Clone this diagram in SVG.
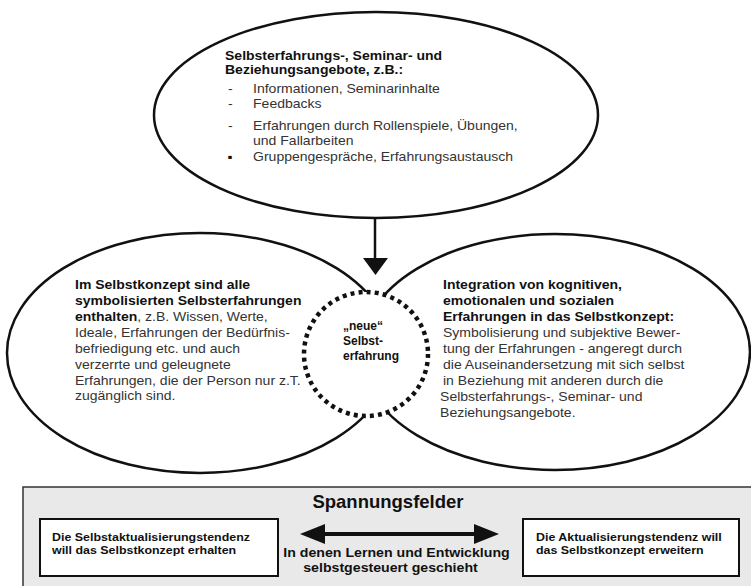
<svg xmlns="http://www.w3.org/2000/svg" width="751" height="586" viewBox="0 0 751 586">
<defs>
<style>
text{font-family:"Liberation Sans",Arial,sans-serif;}
.r{font-size:12.3px;fill:#333;}
.b{font-size:12.3px;font-weight:bold;fill:#111;}
.bb{font-weight:bold;fill:#111;}
.oval{fill:none;stroke:#111;stroke-width:2.5;}
.box{fill:#fff;stroke:#111;stroke-width:2;}
.sb{font-size:11px;font-weight:bold;fill:#111;}
</style>
</defs>
<rect width="751" height="586" fill="#fff"/>

<g id="node-top">
<ellipse class="oval" cx="376" cy="115" rx="222" ry="103" fill="#fff"/>
<g transform="translate(225,0) scale(1.14,1)">
<text class="b" x="0" y="60">Selbsterfahrungs-, Seminar- und</text>
<text class="b" x="0" y="74">Beziehungsangebote, z.B.:</text>
<text class="r" x="2.6" y="93">-</text><text class="r" x="24.6" y="93">Informationen, Seminarinhalte</text>
<text class="r" x="2.6" y="108">-</text><text class="r" x="24.6" y="108">Feedbacks</text>
<text class="r" x="2.6" y="130">-</text><text class="r" x="24.6" y="130">Erfahrungen durch Rollenspiele, Übungen,</text>
<text class="r" x="24.6" y="145">und Fallarbeiten</text>
<text class="b" x="2" y="161">▪</text><text class="r" x="24.6" y="161">Gruppengespräche, Erfahrungsaustausch</text>
</g>
</g>

<g id="node-left">
<ellipse class="oval" cx="200" cy="353" rx="193" ry="120"/>
<g transform="translate(75,0) scale(1.14,1)">
<text class="b" x="0" y="289">Im Selbstkonzept sind alle</text>
<text class="b" x="0" y="305">symbolisierten Selbsterfahrungen</text>
<text class="r" x="0" y="321"><tspan class="bb">enthalten</tspan>, z.B. Wissen, Werte,</text>
<text class="r" x="0" y="337">Ideale, Erfahrungen der Bedürfnis-</text>
<text class="r" x="0" y="353">befriedigung etc. und auch</text>
<text class="r" x="0" y="369">verzerrte und geleugnete</text>
<text class="r" x="0" y="385">Erfahrungen, die der Person nur z.T.</text>
<text class="r" x="0" y="400">zugänglich sind.</text>
</g>
</g>

<g id="node-right">
<ellipse class="oval" cx="555" cy="352" rx="195" ry="118"/>
<g transform="translate(443,0) scale(1.14,1)">
<text class="b" x="0" y="289">Integration von kognitiven,</text>
<text class="b" x="0" y="305">emotionalen und sozialen</text>
<text class="b" x="0" y="321">Erfahrungen in das Selbstkonzept:</text>
<text class="r" x="0" y="337">Symbolisierung und subjektive Bewer-</text>
<text class="r" x="0" y="353">tung der Erfahrungen - angeregt durch</text>
<text class="r" x="0" y="369">die Auseinandersetzung mit sich selbst</text>
<text class="r" x="0" y="385">in Beziehung mit anderen durch die</text>
<text class="r" x="-2.6" y="401">Selbsterfahrungs-, Seminar- und</text>
<text class="r" x="-2.6" y="417">Beziehungsangebote.</text>
</g>
</g>

<g id="node-center">
<circle cx="366" cy="354" r="62" fill="#fff" stroke="#111" stroke-width="4.5" stroke-dasharray="4 4.12"/>
<text class="b" style="font-size:12px" x="343" y="330">„neue“</text>
<text class="b" style="font-size:12px" x="343" y="345">Selbst-</text>
<text class="b" style="font-size:12px" x="343" y="360">erfahrung</text>
</g>

<g id="node-spannungsfelder">
<rect x="23" y="487" width="740" height="110" fill="#e9e9e9" stroke="#333" stroke-width="1.5"/>
<text x="388" y="508" text-anchor="middle" style="font-size:18.5px;font-weight:bold;fill:#111">Spannungsfelder</text>
<g transform="translate(396.5,0) scale(1.18,1)">
<text class="sb" style="font-size:12px" x="0" y="557" text-anchor="middle">In denen Lernen und Entwicklung</text>
</g>
<g transform="translate(390.5,0) scale(1.18,1)">
<text class="sb" style="font-size:12px" x="0" y="572" text-anchor="middle">selbstgesteuert geschieht</text>
</g>
</g>

<g id="node-erhalten">
<rect class="box" x="40" y="519" width="238" height="57"/>
<g transform="translate(52,0) scale(1.13,1)">
<text class="sb" x="0" y="541">Die Selbstaktualisierungstendenz</text>
<text class="sb" x="0" y="554">will das Selbstkonzept erhalten</text>
</g>
</g>

<g id="node-erweitern">
<rect class="box" x="523" y="519" width="216" height="57"/>
<g transform="translate(536,0) scale(1.13,1)">
<text class="sb" x="0" y="541">Die Aktualisierungstendenz will</text>
<text class="sb" x="0" y="554">das Selbstkonzept erweitern</text>
</g>
</g>

<g id="connectors">
<line x1="375" y1="218" x2="375" y2="259" stroke="#111" stroke-width="2.5"/>
<polygon points="363,258 388,258 375.5,275" fill="#111"/>
<polygon points="300,534 325,524 325,532 474,532 474,524 499,534 474,544 474,536 325,536 325,544" fill="#111"/>
</g>
</svg>
